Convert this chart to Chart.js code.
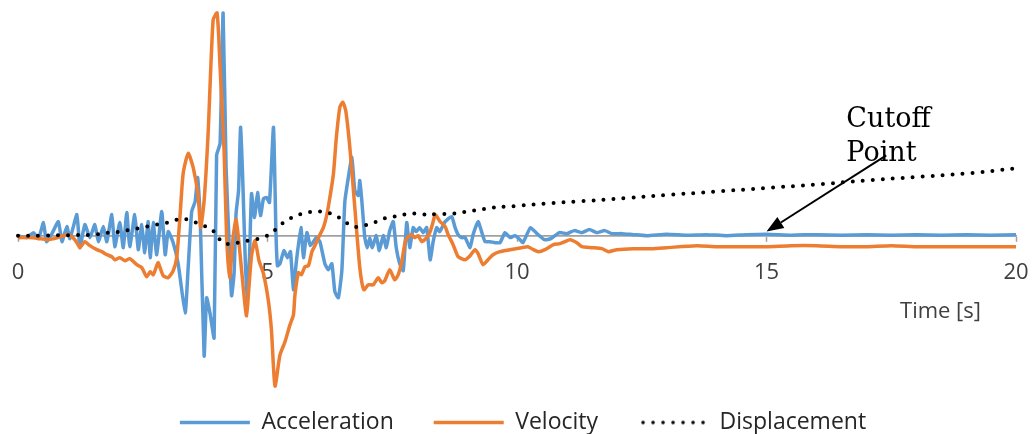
<!DOCTYPE html>
<html>
<head>
<meta charset="utf-8">
<script src="https://cdn.jsdelivr.net/npm/chart.js@4"></script>
<style>
  html, body { margin: 0; padding: 0; background: #ffffff; }
  #wrap { width: 1033px; height: 434px; }
</style>
</head>
<body>
<div id="wrap"><canvas id="c" width="1033" height="434"></canvas></div>
<script>
// ---- data (time in s, values in relative units, zero = baseline) ----
const xTicks = [0, 5, 10, 15, 20];
const seriesNames = ['Acceleration', 'Velocity', 'Displacement'];

const accT = [0.00,0.17,0.31,0.41,0.51,0.57,0.67,0.81,0.88,0.98,1.04,1.18,1.24,1.34,1.44,1.54,1.61,1.71,1.78,1.88,1.94,2.04,2.11,2.18,2.24,2.34,2.41,2.48,2.54,2.61,2.65,2.71,2.78,2.88,2.95,3.01,3.11,3.21,3.35,3.41,3.48,3.55,3.60,3.65,3.73,3.78,3.85,3.93,3.98,4.05,4.11,4.17,4.24,4.28,4.33,4.37,4.42,4.46,4.50,4.55,4.59,4.64,4.68,4.74,4.80,4.86,4.92,4.98,5.04,5.12,5.17,5.20,5.25,5.33,5.40,5.46,5.52,5.58,5.67,5.72,5.79,5.86,5.98,6.05,6.15,6.22,6.29,6.35,6.42,6.49,6.55,6.62,6.69,6.75,6.82,6.85,6.89,6.95,7.00,7.05,7.10,7.18,7.24,7.32,7.38,7.45,7.52,7.58,7.65,7.72,7.79,7.85,7.92,7.98,8.05,8.12,8.19,8.26,8.32,8.39,8.45,8.56,8.69,8.76,8.82,8.89,8.96,9.06,9.12,9.22,9.29,9.36,9.46,9.56,9.66,9.76,9.86,9.96,10.06,10.12,10.27,10.40,10.55,10.68,10.85,11.0,11.15,11.3,11.45,11.6,11.76,11.9,12.1,12.33,12.6,13.0,13.4,13.8,14.2,14.6,15.0,15.5,16.0,16.5,17.0,17.5,18.0,18.5,19.0,19.5,20.0];
const accV = [0,-2,3,-3,13,-6,1,14,-6,9,-3,21,-12,11,-2,11,-6,9,-6,21,-11,13,-12,23,-11,21,-14,11,-17,14,-22,13,-19,24,-19,4,-7,-28,-77,-32,24,34,58,20,-120,-62,-78,-102,80,92,222,68,-18,-60,-38,22,45,108,62,-18,-62,-20,42,18,43,20,37,38,33,108,2,-30,-28,-15,-22,-16,-54,-25,8,-22,3,-10,-2,-6,-28,-34,-28,-56,-62,-35,34,58,78,45,40,55,35,-2,-12,-2,-12,0,-15,0,-12,5,14,-12,-28,-35,13,-12,8,4,8,3,8,-24,-6,8,4,14,19,8,1,-2,-2,-12,1,14,4,-6,-6,-7,-7,3,-2,0,-4,-7,8,2,-4,-3,3,2,5,3,6,3,5,2,2,1,0,1.5,0.5,1,0,1,1.5,0.5,1,0.5,1,0.5,1,0.5,1,0.5,1];

const velT = [0.0,0.3,0.6,0.8,0.98,1.08,1.18,1.24,1.34,1.44,1.58,1.68,1.78,1.88,1.94,2.04,2.14,2.24,2.38,2.48,2.58,2.65,2.71,2.78,2.81,2.91,3.01,3.11,3.18,3.25,3.31,3.41,3.51,3.61,3.66,3.73,3.81,3.91,3.99,4.05,4.13,4.18,4.24,4.31,4.37,4.43,4.52,4.58,4.63,4.68,4.75,4.83,4.92,5.02,5.08,5.15,5.25,5.35,5.45,5.52,5.55,5.62,5.68,5.75,5.82,5.89,5.95,6.05,6.12,6.19,6.25,6.32,6.38,6.45,6.51,6.57,6.65,6.75,6.85,6.93,7.02,7.12,7.22,7.29,7.35,7.45,7.55,7.62,7.69,7.76,7.82,7.89,7.95,8.02,8.09,8.19,8.26,8.32,8.36,8.46,8.56,8.62,8.72,8.82,8.96,9.06,9.16,9.22,9.32,9.42,9.52,9.66,9.86,10.09,10.22,10.33,10.43,10.56,10.73,10.86,10.96,11.06,11.2,11.3,11.5,11.7,11.83,12.0,12.33,12.7,13.0,13.6,14.0,14.5,15.0,15.5,16.0,16.5,17.0,17.5,18.0,18.5,19.0,19.5,20.0];
const velV = [-2,-2,-4,-2,1,-1,-7,-12,-6,-10,-14,-16,-19,-21,-24,-22,-25,-23,-29,-32,-41,-36,-39,-30,-27,-40,-42,-35,-22,22,62,82,68,40,8,35,102,215,222,168,85,0,-42,-2,16,-8,-55,-80,-50,-20,-5,-25,-38,-66,-95,-150,-119,-106,-89,-79,-59,-37,-39,-31,-30,-16,-10,1,8,21,38,61,98,128,133,124,88,28,-32,-54,-49,-49,-42,-47,-45,-34,-44,-39,-26,-6,-1,1,-2,0,-6,-2,4,14,21,14,9,1,-9,-21,-24,-20,-14,-18,-29,-24,-19,-16,-14,-12,-11,-14,-16,-14,-9,-8,-6,-4,-7,-11,-12,-13,-16,-14,-13,-13,-12,-10,-11,-11,-11,-10,-10,-11,-11,-10,-11,-11,-11,-11,-11];

const dispT = [0,0.5,1.0,1.5,1.84,2.04,2.26,2.48,2.68,2.88,3.08,3.27,3.46,3.66,3.85,3.98,4.1,4.3,4.5,4.7,4.9,5.09,5.24,5.42,5.58,5.79,6.0,6.2,6.4,6.55,6.73,6.93,7.13,7.33,7.53,7.74,7.94,8.12,8.42,8.72,8.92,9.12,9.32,9.52,9.76,9.96,10.56,11.2,12.2,13.0,14.0,15.0,16.0,17.0,18.0,19.0,20.0];
const dispV = [0,0,0.5,1,3,4,6,8,10,12,14,17,15,11,7,1,-7,-8,-6,-4,-2,3,10,16,20,23,24,23,19,14,9,10,13,17,19,21,22,21,21.5,22,23.5,25,26.5,28,29,29.5,32,34,37.5,40.5,44,47.5,51,55,58.5,62,67];

// annotation anchor (data coordinates)
const noteLines = ['Cutoff', 'Point'];
const noteAnchor = { x: 16.6, y: [108, 74] };
const arrowFrom = { x: 17.4, y: 80 };
const arrowTo = { x: 15, y: 4 };
const xTitle = 'Time [s]';

const toPts = (ts, vs) => ts.map((t, i) => ({ x: t, y: vs[i] }));

// dotted legend sample for the displacement series
const dotSample = document.createElement('canvas');
dotSample.width = 66; dotSample.height = 6;
(function () {
  const g = dotSample.getContext('2d');
  g.fillStyle = '#000000';
  for (let i = 0; i < 7; i++) {
    g.beginPath();
    g.arc(3 + i * 10, 3, 1.8, 0, Math.PI * 2);
    g.fill();
  }
})();

const annotationPlugin = {
  id: 'notes',
  afterLayout(chart) {
    const lg = chart.legend;
    if (lg) { lg.left += 6; lg.right += 6; }
  },
  afterDatasetsDraw(chart) {
    const { ctx, scales: { x, y } } = chart;
    ctx.save();
    // axis title
    ctx.font = '22px "Open Sans"';
    ctx.fillStyle = '#404040';
    ctx.textAlign = 'right';
    ctx.textBaseline = 'alphabetic';
    ctx.fillText(xTitle, x.getPixelForValue(20) - 35, y.getPixelForValue(-82));
    // cutoff text
    ctx.font = '27px "DejaVu Serif"';
    ctx.fillStyle = '#000000';
    ctx.textAlign = 'left';
    noteLines.forEach((s, i) => ctx.fillText(s, x.getPixelForValue(noteAnchor.x), y.getPixelForValue(noteAnchor.y[i])));
    // arrow
    const x1 = x.getPixelForValue(arrowFrom.x), y1 = y.getPixelForValue(arrowFrom.y);
    const x2 = x.getPixelForValue(arrowTo.x), y2 = y.getPixelForValue(arrowTo.y);
    const ang = Math.atan2(y2 - y1, x2 - x1);
    const L = 17, W = 6.5;
    const bx = x2 - L * Math.cos(ang), by = y2 - L * Math.sin(ang);
    ctx.strokeStyle = '#000000';
    ctx.lineWidth = 2;
    ctx.beginPath();
    ctx.moveTo(x1, y1);
    ctx.lineTo(bx, by);
    ctx.stroke();
    ctx.beginPath();
    ctx.moveTo(x2, y2);
    ctx.lineTo(bx + W * Math.sin(ang), by - W * Math.cos(ang));
    ctx.lineTo(bx - W * Math.sin(ang), by + W * Math.cos(ang));
    ctx.closePath();
    ctx.fillStyle = '#000000';
    ctx.fill();
    ctx.restore();
  }
};

new Chart(document.getElementById('c'), {
  type: 'line',
  data: {
    datasets: [
      {
        label: seriesNames[0],
        data: toPts(accT, accV),
        borderColor: '#5B9BD5',
        backgroundColor: '#5B9BD5',
        borderWidth: 3.5,
        pointRadius: 0,
        tension: 0.15,
        clip: false,
        order: 3
      },
      {
        label: seriesNames[1],
        data: toPts(velT, velV),
        borderColor: '#ED7D31',
        backgroundColor: '#ED7D31',
        borderWidth: 3.5,
        pointRadius: 0,
        tension: 0.2,
        clip: false,
        order: 2
      },
      {
        label: seriesNames[2],
        data: toPts(dispT, dispV),
        borderColor: '#000000',
        backgroundColor: '#000000',
        borderWidth: 4,
        borderDash: [0, 10],
        borderCapStyle: 'round',
        pointRadius: 0,
        tension: 0.4,
        clip: false,
        order: 1
      }
    ]
  },
  options: {
    responsive: false,
    animation: false,
    layout: { padding: { left: 18, right: 17, top: 0, bottom: -10 } },
    scales: {
      x: {
        type: 'linear',
        position: { y: 0 },
        min: xTicks[0],
        max: xTicks[xTicks.length - 1],
        afterBuildTicks: (s) => { s.ticks = xTicks.map(v => ({ value: v })); },
        afterFit: (s) => { s.paddingLeft = 0; s.paddingRight = 0; },
        ticks: {
          padding: 19,
          color: '#404040',
          font: { family: '"Open Sans"', size: 22 },
          maxRotation: 0
        },
        grid: { drawOnChartArea: false, drawTicks: true, tickLength: 5, color: '#a0a0a0', tickWidth: 1.5 },
        border: { display: true, color: '#a0a0a0', width: 1.8 }
      },
      y: {
        display: false,
        min: -135,
        max: 235
      }
    },
    plugins: {
      tooltip: { enabled: false },
      legend: {
        position: 'bottom',
        labels: {
          usePointStyle: true,
          pointStyle: 'line',
          pointStyleWidth: 70,
          padding: 40,
          color: '#262626',
          font: { family: '"Open Sans"', size: 23 },
          sort: (a, b) => a.datasetIndex - b.datasetIndex,
          generateLabels: (chart) => {
            const items = Chart.defaults.plugins.legend.labels.generateLabels(chart);
            items.forEach(it => { if (it.datasetIndex === 2) it.pointStyle = dotSample; });
            return items;
          }
        }
      }
    }
  },
  plugins: [annotationPlugin]
});
</script>
</body>
</html>
